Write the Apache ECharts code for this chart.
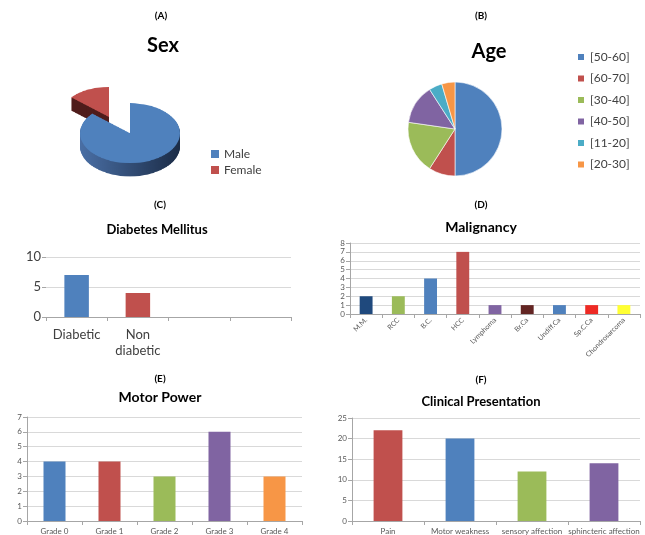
<!DOCTYPE html>
<html>
<head>
<meta charset="utf-8">
<script src="https://cdn.jsdelivr.net/npm/echarts@6/dist/echarts.min.js"></script>
<style>
  body { margin: 0; background: #fff; }
  #main { position: absolute; left: 0; top: 0; width: 645px; height: 535px; }
  #sexpie { position: absolute; left: 50px; top: 60px; width: 150px; height: 200px;
            transform: scaleY(0.6); transform-origin: 0 0; z-index: 2; }
</style>
</head>
<body>
<div id="main"></div>
<div id="sexpie"></div>
<script>
// data
var sexNames = ['Male', 'Female'];
var sexValues = [19, 3];

var ageNames = ['[50-60]', '[60-70]', '[30-40]', '[40-50]', '[11-20]', '[20-30]'];
var ageValues = [11, 2, 4, 3, 1, 1];

var dmCategories = ['Diabetic', 'Non\ndiabetic', ' ', '  '];
var dmValues = [7, 4, null, null];

var malCategories = ['M.M.', 'RCC', 'B.C.', 'HCC', 'Lymphoma', 'Br.Ca', 'Undiff.Ca', 'Sp.C.Ca', 'Chondrosarcoma'];
var malValues = [2, 2, 4, 7, 1, 1, 1, 1, 1];

var motorCategories = ['Grade 0', 'Grade 1', 'Grade 2', 'Grade 3', 'Grade 4'];
var motorValues = [4, 4, 3, 6, 3];

var clinCategories = ['Pain', 'Motor weakness', 'sensory affection', 'sphincteric affection'];
var clinValues = [22, 20, 12, 14];

// colours
var office = ['#4F81BD', '#C0504D', '#9BBB59', '#8064A2', '#4BACC6', '#F79646'];
var motorColors = ['#4F81BD', '#C0504D', '#9BBB59', '#8064A2', '#F79646'];
var malColors = ['#1F497D', '#9BBB59', '#4F81BD', '#C0504D', '#8064A2', '#632523', '#4F81BD', '#EE2A24', '#FFFF33'];
var clinColors = ['#C0504D', '#4F81BD', '#9BBB59', '#8064A2'];

var FONT = 'Lato, "Open Sans", sans-serif';

var chart = echarts.init(document.getElementById('main'));

function coloured(values, colors) {
  return values.map(function (v, i) {
    return { value: v, itemStyle: { color: colors[i] } };
  });
}

function xAxisFor(grid, cats, label) {
  return {
    type: 'category', gridIndex: grid, data: cats,
    axisLine: { lineStyle: { color: '#a6a6a6' } },
    axisTick: { show: true, length: 4, interval: 0, lineStyle: { color: '#a6a6a6' } },
    axisLabel: Object.assign({ interval: 0, color: '#595959', fontFamily: FONT }, label)
  };
}

function yAxisFor(grid, max, interval, size, showLine) {
  return {
    type: 'value', gridIndex: grid, min: 0, max: max, interval: interval,
    axisLine: { show: showLine, lineStyle: { color: '#a6a6a6' } },
    axisTick: { show: true, length: 4, lineStyle: { color: '#a6a6a6' } },
    axisLabel: { color: size > 10 ? '#404040' : '#595959', fontSize: size, fontFamily: FONT, margin: 5 },
    splitLine: { lineStyle: { color: '#d9d9d9' } }
  };
}

function txt(x, y, s, size) {
  return {
    type: 'text', x: x, y: y,
    style: { text: s, font: 'bold ' + size + 'px ' + FONT, fill: '#000',
             textAlign: 'center', textVerticalAlign: 'middle' }
  };
}

var option = {
  backgroundColor: '#fff',
  animation: false,
  graphic: [
    txt(161, 16, '(A)', 10), txt(163, 46, 'Sex', 20),
    txt(481, 16, '(B)', 10), txt(489, 52, 'Age', 20),
    txt(160, 205, '(C)', 10), txt(157, 230, 'Diabetes Mellitus', 13),
    txt(481, 205, '(D)', 10), txt(481, 227, 'Malignancy', 14),
    txt(160, 379, '(E)', 10), txt(160, 397, 'Motor Power', 14),
    txt(481, 380, '(F)', 10), txt(481, 402, 'Clinical Presentation', 13)
  ],
  legend: [
    { data: sexNames, orient: 'vertical', left: 206, top: 143, itemWidth: 8, itemHeight: 8,
      itemGap: 4, icon: 'rect', textStyle: { fontSize: 12, color: '#404040', fontFamily: FONT } },
    { data: ageNames, orient: 'vertical', left: 571, top: 46, itemWidth: 8, itemHeight: 8,
      itemGap: 9.5, icon: 'rect', textStyle: { fontSize: 12, color: '#404040', fontFamily: FONT } }
  ],
  grid: [
    { left: 46, right: 354, top: 257, bottom: 218 },
    { left: 350, right: 5, top: 243, bottom: 221 },
    { left: 27, right: 343, top: 417, bottom: 12 },
    { left: 352, right: 5, top: 418, bottom: 13 }
  ],
  xAxis: [
    xAxisFor(0, dmCategories, { fontSize: 13, color: '#404040', margin: 10, lineHeight: 16 }),
    xAxisFor(1, malCategories, { fontSize: 7, rotate: 45, margin: 5 }),
    xAxisFor(2, motorCategories, { fontSize: 8, margin: 6 }),
    xAxisFor(3, clinCategories, { fontSize: 8, margin: 6 })
  ],
  yAxis: [
    yAxisFor(0, 10, 5, 13, false),
    yAxisFor(1, 8, 1, 8, true),
    yAxisFor(2, 7, 1, 8, true),
    yAxisFor(3, 25, 5, 8, true)
  ],
  series: [
    // keeps the Sex legend; the pie itself is drawn in the tilted instance
    { type: 'pie', radius: 0, center: [-50, -50], silent: true, label: { show: false },
      data: sexNames.map(function (n, i) { return { name: n, value: sexValues[i], itemStyle: { color: office[i] } }; }) },
    { type: 'pie', radius: 47, center: [455, 129], startAngle: 90, silent: true,
      label: { show: false }, itemStyle: { borderColor: '#fff', borderWidth: 0.6 },
      data: ageNames.map(function (n, i) { return { name: n, value: ageValues[i], itemStyle: { color: office[i] } }; }) },
    { type: 'bar', xAxisIndex: 0, yAxisIndex: 0, barWidth: '40%', data: coloured(dmValues, office) },
    { type: 'bar', xAxisIndex: 1, yAxisIndex: 1, barWidth: '40%', data: coloured(malValues, malColors) },
    { type: 'bar', xAxisIndex: 2, yAxisIndex: 2, barWidth: '40%', data: coloured(motorValues, motorColors) },
    { type: 'bar', xAxisIndex: 3, yAxisIndex: 3, barWidth: '40%', data: coloured(clinValues, clinColors) }
  ]
};
chart.setOption(option);

// tilted 3D-looking Sex pie: a pie squashed by CSS, with stacked darker copies as its side
var sexChart = echarts.init(document.getElementById('sexpie'));
var maleC = [80, 122], femaleC = [59, 95], depth = 22;
var maleSide = { type: 'linear', x: 0, y: 0, x2: 1, y2: 0,
  colorStops: [{ offset: 0, color: '#4a6fa5' }, { offset: 1, color: '#1b2c47' }] };
var femaleSide = '#4f1c1b';

function sexLayer(which, c, dy, color) {
  return {
    type: 'pie', radius: 50, center: [c[0], c[1] + dy], startAngle: 90, silent: true,
    label: { show: false }, itemStyle: { borderWidth: 0 },
    data: sexNames.map(function (n, i) {
      return { name: n, value: sexValues[i], itemStyle: { color: i === which ? color : 'rgba(0,0,0,0)' } };
    })
  };
}

var sexSeries = [];
for (var t = depth; t >= 1; t--) sexSeries.push(sexLayer(1, femaleC, t, femaleSide));
sexSeries.push(sexLayer(1, femaleC, 0, office[1]));
for (var t2 = depth; t2 >= 1; t2--) sexSeries.push(sexLayer(0, maleC, t2, maleSide));
sexSeries.push(sexLayer(0, maleC, 0, office[0]));

sexChart.setOption({ animation: false, series: sexSeries });
</script>
</body>
</html>
